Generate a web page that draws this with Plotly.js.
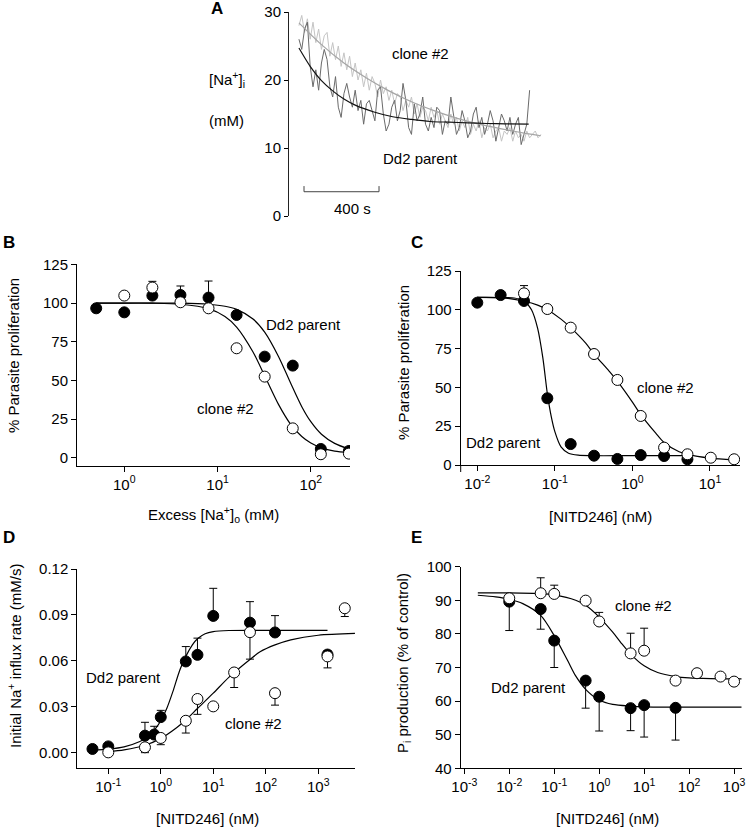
<!DOCTYPE html>
<html><head><meta charset="utf-8">
<script src="https://cdn.plot.ly/plotly-3.0.1.min.js"></script>
<style>html,body{margin:0;padding:0;background:#fff}#g{width:747px;height:829px}</style>
</head><body><div id="g"></div>
<script>
// ---------- Panel A: [Na+]i time courses ----------
const aTime = [0,15,30,45,60,75,90,105,120,135,150,165,180,195,210,225,240,255,270,285,300,315,330,345,360,375,390,405,420,435,450,465,480,495,510,525,540,555,570,585,600,615,630,645,660,675,690,705,720,735,750,765,780,795,810,825,840,855,870,885,900,915,930,945,960,975,990,1005,1020,1035,1050,1065,1080,1095,1110,1125,1140,1155,1170,1185,1200,1215,1230,1245,1260,1275,1290];
const aDd2Trace = [26.0,24.5,27.5,28.5,22.0,19.0,21.5,18.5,22.5,24.5,23.0,19.0,17.5,20.5,16.0,14.5,18.0,19.5,17.5,16.0,18.5,15.5,17.0,13.5,16.5,17.0,15.5,14.0,18.5,19.0,15.0,12.5,13.5,16.0,17.0,14.0,15.5,19.5,17.0,13.0,12.0,16.5,14.0,15.0,17.5,13.5,12.5,14.5,13.0,16.0,15.5,12.0,14.0,13.5,17.5,14.5,12.0,13.0,15.5,14.0,11.5,12.5,15.0,16.0,13.0,14.5,12.0,13.5,15.5,14.0,11.0,13.0,15.0,14.0,12.5,14.5,12.0,13.5,14.5,10.5,12.0,13.5,18.5];
const aCloneTrace = [28.0,29.5,27.0,29.0,26.0,28.5,25.5,27.5,24.5,26.5,27.0,23.5,25.5,23.0,25.0,22.0,24.0,21.5,23.5,20.5,22.5,20.0,21.5,19.0,21.0,18.5,20.5,19.5,17.5,20.0,18.0,19.0,17.0,18.5,16.5,18.0,17.5,15.5,17.0,16.0,17.5,15.0,16.5,14.5,16.0,15.5,14.0,16.0,14.5,15.5,13.5,15.0,14.0,13.0,15.0,13.5,14.5,12.5,14.0,13.0,14.5,12.0,13.5,12.5,14.0,11.5,13.0,12.5,13.5,11.5,12.5,13.0,11.0,12.5,12.0,13.0,11.0,12.5,11.5,12.0,11.0,12.5,11.5,12.0,12.5,11.5,12.0];
const aFitDd2T = [0,60,120,180,240,300,400,500,600,700,800,900,1000,1100,1225];
const aFitDd2 = [24.7,22.0,19.9,18.4,17.2,16.3,15.3,14.6,14.2,13.9,13.8,13.7,13.6,13.55,13.5];
const aFitCloneT = [0,120,240,360,480,600,720,840,960,1080,1200,1290];
const aFitClone = [28.4,25.2,22.5,20.3,18.4,16.8,15.5,14.4,13.5,12.8,12.2,11.8];

// ---------- Panel B: proliferation vs excess [Na+]o ----------
const bDd2X = [0.5,1,2,4,8,16,32,64,128,256];
const bDd2Y = [96.6,94,104.8,105.2,103.5,92.3,65.4,59.6,5.8,4.5];
const bDd2ErrUp = [0,0,9.2,5.8,10.7,0,0,0,0,0];
const bCloneX = [1,2,4,8,16,32,64,128,256];
const bCloneY = [104.8,110,100.5,96.6,70.8,52.5,19.1,2.4,2.8];
const bFitX = [0.5,1,2,4,8,12,16,24,32,45,60,80,100,130,180,256];
const bFitDd2 = [100,100,100,99.9,99.2,97.9,95.9,89.7,81.2,65.5,49,33.1,23.4,15.3,9.4,5.8];
const bFitClone = [100,100,99.9,99.2,96.4,91.3,84.5,68.4,53,34.6,22.2,13.8,9.6,6.5,4.4,3.4];

// ---------- Panel C: proliferation vs NITD246 ----------
const cDd2X = [0.01,0.02,0.04,0.08,0.16,0.32,0.64,1.28,2.56,5.12];
const cDd2Y = [104.6,109.5,105.7,43,13.5,6,3.9,6.4,5.8,3.7];
const cCloneX = [0.04,0.08,0.16,0.32,0.64,1.28,2.56,5.12,10.24,20.48];
const cCloneY = [110.6,100.5,88.5,71.5,54.8,31.6,11.2,6.9,4.7,3.7];
const cCloneErrUp = [5,0,0,0,0,0,0,0,0,0];
const cFitDd2X = [0.01,0.02,0.03,0.04,0.05,0.06,0.07,0.08,0.09,0.1,0.12,0.15,0.2,0.3,1,5.12];
const cFitDd2 = [108,107.9,107.6,105.7,100,88,69,46,31,21.5,11.7,7.6,6.3,6,6,6];
const cFitCloneX = [0.01,0.02,0.04,0.06,0.08,0.12,0.16,0.25,0.32,0.5,0.64,1,1.28,2,2.56,4,5.12,10,20.48];
const cFitClone = [108,107.8,105.5,103,100,94,88.5,78.5,71.5,60.5,54,40.5,32.5,20.5,14.5,8.5,6.8,4.4,3.3];

// ---------- Panel D: initial Na+ influx rate ----------
const dDd2X = [0.05,0.1,0.5,0.75,1,3,5,10,50,150,1500];
const dDd2Y = [0.0026,0.0043,0.0113,0.012,0.0234,0.0597,0.064,0.0894,0.085,0.0786,0.0642];
const dDd2ErrUp = [0,0,0.0087,0.0054,0.0044,0.0097,0.0109,0.018,0.0137,0.011,0.0026];
const dCloneX = [0.1,0.5,1,3,5,10,25,50,150,1500,3200];
const dCloneY = [0.0004,0.0037,0.0098,0.021,0.0352,0.0304,0.0525,0.0788,0.039,0.063,0.0944];
const dCloneErrDown = [0,0.0035,0.0044,0.008,0.010,0,0.0098,0.0176,0.0078,0.0075,0.0054];
const dFitDd2X = [0.05,0.1,0.2,0.4,0.6,0.8,1,1.3,1.7,2.3,3,4,5,7,10,20,100,1500];
const dFitDd2 = [0.0018,0.0025,0.004,0.0075,0.011,0.016,0.021,0.029,0.040,0.054,0.063,0.0705,0.0745,0.0778,0.0792,0.0799,0.080,0.080];
const dFitCloneX = [0.1,0.2,0.5,1,2,3,5,10,20,50,78,150,300,1000,5000];
const dFitClone = [0.0008,0.002,0.005,0.0095,0.0165,0.0215,0.029,0.039,0.0495,0.061,0.066,0.0705,0.0738,0.0768,0.078];

// ---------- Panel E: Pi production ----------
const eDd2X = [0.01,0.05,0.1,0.5,1,5,10,50];
const eDd2Y = [89.6,87.4,78,66.1,61.3,57.9,58.8,58];
const eDd2ErrDown = [8.6,6,8,8.2,10.2,6.7,9.5,9.6];
const eCloneX = [0.01,0.05,0.1,0.5,1,5,10,50,150,500,1000];
const eCloneY = [90.6,92.1,91.9,89.9,83.7,74.2,75,66.1,68.3,67.3,65.8];
const eCloneErrUp = [0,4.6,2.6,0,2.7,6,6.7,0,0,0,0];
const eFitCloneX = [0.002,0.01,0.05,0.1,0.3,0.5,1,2,3,5,10,20,50,100,300,1480];
const eFitClone = [92.2,92.2,92,91.6,90,88.5,85,80.5,77.5,74,70.5,68.5,67.3,66.9,66.7,66.6];
const eFitDd2X = [0.002,0.005,0.01,0.02,0.05,0.1,0.2,0.3,0.5,1,2,5,10,100,1480];
const eFitDd2 = [91.5,91,90.3,89,85.5,79.5,72,67.5,63.5,60.3,59,58.5,58.3,58.2,58.2];

// tick labels
const tvB = [1,10,100], ttB = ['10<sup>0</sup>','10<sup>1</sup>','10<sup>2</sup>'];
const tvC = [0.01,0.1,1,10], ttC = ['10<sup>-2</sup>','10<sup>-1</sup>','10<sup>0</sup>','10<sup>1</sup>'];
const tvD = [0.1,1,10,100,1000], ttD = ['10<sup>-1</sup>','10<sup>0</sup>','10<sup>1</sup>','10<sup>2</sup>','10<sup>3</sup>'];
const tvE = [0.001,0.01,0.1,1,10,100,1000], ttE = ['10<sup>-3</sup>','10<sup>-2</sup>','10<sup>-1</sup>','10<sup>0</sup>','10<sup>1</sup>','10<sup>2</sup>','10<sup>3</sup>'];

// ---------- build ----------
const W = 747, H = 829;
const fx = p => p / W, fy = p => 1 - p / H;
const F = 'Arial, "Liberation Sans", sans-serif';

function fit(x, y, xa, ya, color) {
  return {x, y, xaxis: xa, yaxis: ya, mode: 'lines', line: {color: color || '#000', width: 1.2, shape: 'spline', smoothing: 0.8}, hoverinfo: 'skip', showlegend: false};
}
function pts(x, y, xa, ya, filled, errUp, errDown) {
  const t = {x, y, xaxis: xa, yaxis: ya, mode: 'markers', showlegend: false,
    marker: {symbol: 'circle', size: 11, color: filled ? '#000' : '#fff', line: {color: '#000', width: 1}}};
  if (errUp || errDown) {
    t.error_y = {type: 'data', symmetric: false,
      array: errUp || x.map(() => 0), arrayminus: errDown || x.map(() => 0),
      color: '#000', thickness: 1, width: 4};
  }
  return t;
}

const traces = [
  {x: aTime.slice(0, aCloneTrace.length), y: aCloneTrace, xaxis: 'x', yaxis: 'y', mode: 'lines', line: {color: '#c4c4c4', width: 1}, showlegend: false},
  {x: aTime.slice(0, aDd2Trace.length), y: aDd2Trace, xaxis: 'x', yaxis: 'y', mode: 'lines', line: {color: '#6a6a6a', width: 1}, showlegend: false},
  fit(aFitCloneT, aFitClone, 'x', 'y', '#a5a5a5'),
  fit(aFitDd2T, aFitDd2, 'x', 'y', '#111'),

  fit(bFitX, bFitDd2, 'x2', 'y2'),
  fit(bFitX, bFitClone, 'x2', 'y2'),
  pts(bDd2X, bDd2Y, 'x2', 'y2', true, bDd2ErrUp, null),
  pts(bCloneX, bCloneY, 'x2', 'y2', false),

  fit(cFitDd2X, cFitDd2, 'x3', 'y3'),
  fit(cFitCloneX, cFitClone, 'x3', 'y3'),
  pts(cDd2X, cDd2Y, 'x3', 'y3', true),
  pts(cCloneX, cCloneY, 'x3', 'y3', false, cCloneErrUp, null),

  fit(dFitDd2X, dFitDd2, 'x4', 'y4'),
  fit(dFitCloneX, dFitClone, 'x4', 'y4'),
  pts(dDd2X, dDd2Y, 'x4', 'y4', true, dDd2ErrUp, null),
  pts(dCloneX, dCloneY, 'x4', 'y4', false, null, dCloneErrDown),

  fit(eFitCloneX, eFitClone, 'x5', 'y5'),
  fit(eFitDd2X, eFitDd2, 'x5', 'y5'),
  pts(eDd2X, eDd2Y, 'x5', 'y5', true, null, eDd2ErrDown),
  pts(eCloneX, eCloneY, 'x5', 'y5', false, eCloneErrUp, null)
];

const base = {showline: true, linecolor: '#000', linewidth: 1, ticks: 'outside', ticklen: 5, tickwidth: 1, tickcolor: '#000',
  showgrid: false, zeroline: false, fixedrange: true, tickfont: {family: F, size: 15, color: '#000'}};
function ax(o) { return Object.assign({}, base, o); }

const layout = {
  width: W, height: H, margin: {l: 0, r: 0, t: 0, b: 0}, paper_bgcolor: '#fff', plot_bgcolor: 'rgba(0,0,0,0)',
  font: {family: F, size: 15, color: '#000'}, showlegend: false,
  xaxis: {domain: [fx(289), fx(545)], range: [-53, 1312], visible: false, anchor: 'y', fixedrange: true},
  yaxis: ax({domain: [fy(216), fy(12)], range: [0, 30], tickvals: [0, 10, 20, 30], ticklen: 4, anchor: 'x', linecolor: '#222'}),

  xaxis2: ax({type: 'log', domain: [fx(77), fx(350)], range: [-0.507, 2.42], tickvals: tvB, ticktext: ttB, anchor: 'y2'}),
  yaxis2: ax({domain: [fy(465.7), fy(264.3)], range: [-5, 125], tickvals: [0, 25, 50, 75, 100, 125], anchor: 'x2'}),

  xaxis3: ax({type: 'log', domain: [fx(460.7), fx(740)], range: [-2.214, 1.387], tickvals: tvC, ticktext: ttC, anchor: 'y3'}),
  yaxis3: ax({domain: [fy(465), fy(271)], range: [0, 125], tickvals: [0, 25, 50, 75, 100, 125], anchor: 'x3'}),

  xaxis4: ax({type: 'log', domain: [fx(77.3), fx(355)], range: [-1.59, 3.70], tickvals: tvD, ticktext: ttD, anchor: 'y4'}),
  yaxis4: ax({domain: [fy(768.3), fy(569)], range: [-0.01, 0.12], tickvals: [0, 0.03, 0.06, 0.09, 0.12], tickformat: '.2f', anchor: 'x4'}),

  xaxis5: ax({type: 'log', domain: [fx(460.7), fx(741.7)], range: [-3.08, 3.17], tickvals: tvE, ticktext: ttE, anchor: 'y5'}),
  yaxis5: ax({domain: [fy(768.3), fy(566.7)], range: [40, 100], tickvals: [40, 50, 60, 70, 80, 90, 100], anchor: 'x5'}),

  shapes: [
    // 400 s scale bar (panel A)
    {type: 'path', xref: 'x', yref: 'y', path: 'M27,4.4 L27,3.57 L427,3.57 L427,4.4', line: {color: '#444', width: 1}},
    // short extension of panel C y-axis below the x-axis
    {type: 'line', xref: 'paper', yref: 'paper', x0: fx(460.7), x1: fx(460.7), y0: fy(465), y1: fy(472), line: {color: '#000', width: 1}}
  ],
  annotations: []
};

function ann(text, xp, yp, o) {
  layout.annotations.push(Object.assign({text, xref: 'paper', yref: 'paper', x: fx(xp), y: fy(yp),
    xanchor: 'center', yanchor: 'middle', showarrow: false, font: {family: F, size: 15, color: '#000'}}, o || {}));
}
const bold = {font: {family: F, size: 17, color: '#000', weight: 'bold'}};
ann('<b>A</b>', 217, 9, bold);
ann('<b>B</b>', 9, 242, bold);
ann('<b>C</b>', 417, 242, bold);
ann('<b>D</b>', 9, 537, bold);
ann('<b>E</b>', 417, 537, bold);

// Panel A texts
ann('[Na<sup>+</sup>]<sub>i</sub>', 227, 80);
ann('(mM)', 226, 121);
ann('clone #2', 420, 53);
ann('Dd2 parent', 420, 158);
ann('400 s', 352, 208);

// Panel B
ann('% Parasite proliferation', 13, 356, {textangle: -90});
ann('Excess [Na<sup>+</sup>]<sub>o</sub> (mM)', 213, 514);
ann('Dd2 parent', 303, 325);
ann('clone #2', 225, 408);

// Panel C
ann('% Parasite proliferation', 403, 363, {textangle: -90});
ann('[NITD246] (nM)', 600, 516);
ann('clone #2', 665, 388);
ann('Dd2 parent', 503, 442);

// Panel D
ann('Initial Na<sup>+</sup> influx rate (mM/s)', 14, 656, {textangle: -90});
ann('[NITD246] (nM)', 207, 818);
ann('Dd2 parent', 123, 677);
ann('clone #2', 253, 723);

// Panel E
ann('P<sub>i</sub> production (% of control)', 403, 663, {textangle: -90});
ann('[NITD246] (nM)', 607, 818);
ann('clone #2', 643, 605);
ann('Dd2 parent', 528, 687);

Plotly.newPlot('g', traces, layout, {staticPlot: true, displayModeBar: false});
</script>
</body></html>
